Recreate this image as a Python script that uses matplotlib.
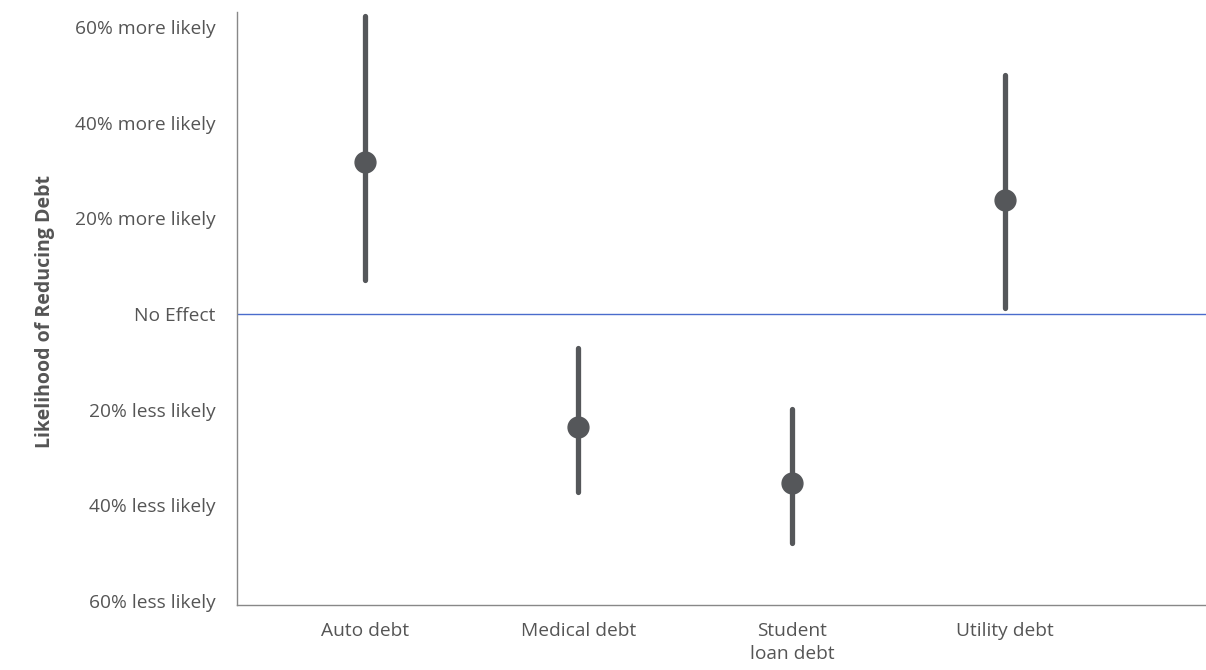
import matplotlib
matplotlib.use("Agg")
import matplotlib.pyplot as plt

# Estimated effect on likelihood of reducing debt (% change), with interval bounds
categories = ["Auto debt", "Medical debt", "Student\nloan debt", "Utility debt"]
estimate = [31.8, -23.6, -35.3, 23.8]
lower = [7.2, -37.2, -47.9, 1.3]
upper = [62.2, -7.1, -19.9, 49.9]

ytick_values = [60, 40, 20, 0, -20, -40, -60]
ytick_labels = ["60% more likely", "40% more likely", "20% more likely", "No Effect",
                "20% less likely", "40% less likely", "60% less likely"]

plt.rcParams["font.family"] = ["Open Sans", "DejaVu Sans"]

text_color = "#555555"
mark_color = "#55575a"

fig = plt.figure(figsize=(12.06, 6.70), dpi=100)
ax = fig.add_axes([237 / 1206, 1 - 605 / 670, (1206 - 237) / 1206, (605 - 12) / 670])

x = list(range(len(categories)))
ax.axhline(0, color="#4a6ccc", linewidth=1.0, zorder=1)
ax.vlines(x, lower, upper, color=mark_color, linewidth=3.8, capstyle="round", zorder=2)
ax.plot(x, estimate, "o", color=mark_color, markersize=15, zorder=3)

ax.set_xlim(-0.6, 3.94)
ax.set_ylim(-60.8, 63.1)

ax.set_yticks(ytick_values)
ax.set_yticklabels(ytick_labels)
ax.set_xticks(x)
ax.set_xticklabels(categories, linespacing=1.35)
ax.tick_params(axis="both", length=0, labelsize=13.8, labelcolor=text_color)
ax.tick_params(axis="y", pad=15.5)
ax.tick_params(axis="x", pad=12)

for side in ("top", "right"):
    ax.spines[side].set_visible(False)
for side in ("left", "bottom"):
    ax.spines[side].set_color("#888888")
    ax.spines[side].set_linewidth(1.0)

ax.set_ylabel("Likelihood of Reducing Debt", fontsize=14, fontweight="bold",
              color=text_color)
ax.yaxis.set_label_coords(-0.188, 0.495)

fig.savefig("out.png", dpi=100)
